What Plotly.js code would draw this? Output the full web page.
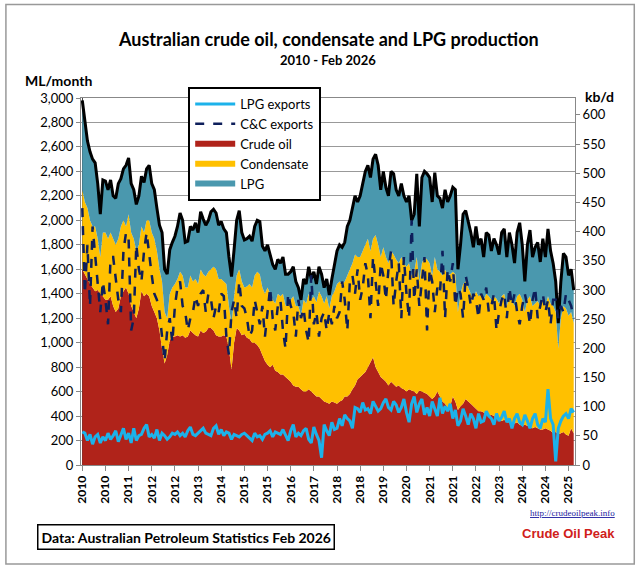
<!DOCTYPE html>
<html><head><meta charset="utf-8">
<script src="https://cdn.plot.ly/plotly-3.0.1.min.js"></script>
<style>body{margin:0;background:#fff}#c{width:641px;height:570px}</style>
</head><body><div id="c"></div>
<script>
// ML/month, monthly Jan 2010 - Dec 2025
const total = [
2980,2800,2650,2560,2500,2470,2300,2050,2330,2320,2250,2330,
2200,2180,2300,2340,2420,2450,2510,2300,2250,2130,2200,2360,
2310,2420,2450,2300,2250,2100,1960,1900,1600,1560,1760,1820,
1870,1950,2060,2000,1820,1830,1950,1920,1980,1900,2070,2010,
1960,2000,2070,2090,2060,1960,1990,1930,1900,1700,1540,1760,
2000,2080,1900,1840,1850,1870,1830,1950,2000,1990,1790,1750,
1800,1720,1640,1600,1680,1650,1700,1560,1560,1580,1620,1500,
1450,1350,1520,1480,1620,1520,1580,1480,1620,1560,1450,1520,
1390,1520,1620,1750,1800,1780,1820,1950,2000,2100,2200,2150,
2200,2300,2400,2450,2350,2500,2540,2450,2250,2400,2270,2200,
2400,2380,2250,2200,2300,2200,2150,2200,2000,2050,2380,1950,
2350,2400,2380,2350,2150,2390,2200,2180,2100,2250,2150,2200,
2270,2250,1600,1800,2050,2080,2000,1900,1780,1950,1800,1850,
1700,1900,1880,1750,1850,1800,1720,1900,1930,1700,1900,1800,
1650,1900,1980,1800,1500,1800,1920,1700,1780,1820,1660,1850,
1700,1930,1750,1650,1500,1160,1500,1730,1700,1550,1600,1430];
const crudePlusCondensate = [
2250,2150,2100,2000,1950,1950,1850,1700,1900,1900,1850,1900,
1850,1800,1850,1950,2000,1950,2050,1900,1850,1750,1800,1950,
1900,2000,2000,1900,1850,1750,1600,1500,1250,1200,1400,1450,
1480,1520,1580,1550,1450,1450,1550,1500,1520,1480,1600,1560,
1540,1580,1600,1620,1600,1520,1520,1500,1480,1300,1150,1380,
1550,1600,1500,1450,1460,1480,1450,1550,1580,1560,1450,1400,
1450,1400,1350,1320,1400,1380,1400,1300,1320,1350,1380,1300,
1300,1220,1350,1320,1400,1350,1380,1330,1420,1380,1320,1380,
1280,1380,1420,1480,1500,1480,1500,1550,1600,1650,1720,1700,
1700,1750,1800,1850,1750,1850,1880,1800,1700,1780,1700,1650,
1750,1720,1680,1650,1700,1650,1620,1650,1550,1580,1700,1500,
1650,1700,1680,1650,1550,1700,1600,1580,1550,1600,1550,1560,
1580,1560,1250,1400,1480,1500,1450,1400,1350,1420,1380,1400,
1350,1400,1380,1350,1380,1360,1320,1380,1400,1300,1380,1350,
1300,1380,1400,1350,1250,1350,1380,1300,1320,1340,1300,1350,
1300,1380,1320,1300,1250,950,1200,1300,1280,1220,1250,1160];
const crude = [
1600,1560,1520,1480,1450,1420,1430,1400,1380,1350,1350,1380,
1300,1250,1280,1380,1420,1450,1400,1300,1250,1200,1280,1420,
1380,1400,1380,1300,1250,1200,1100,950,830,900,1020,1050,
1050,1060,1050,1060,1040,1050,1100,1080,1060,1050,1100,1080,
1090,1120,1120,1100,1060,1050,1050,1060,1050,950,780,1000,
1120,1100,1060,1070,1040,1030,1000,1000,980,950,900,850,
820,800,820,770,760,740,740,720,700,680,650,640,
640,620,600,600,620,600,580,560,560,540,520,510,
500,520,510,500,520,530,560,560,580,620,650,700,
720,740,760,800,840,880,800,760,720,700,680,650,
680,660,640,650,630,620,600,620,610,600,580,610,
600,590,580,560,540,560,600,560,520,500,470,480,
560,520,450,480,500,540,520,500,480,460,440,440,
430,420,400,410,400,380,370,360,370,350,350,340,
340,350,330,320,330,320,310,300,310,300,290,290,
300,290,280,260,270,250,260,270,250,240,300,260];
const ccExports = [
2100,1400,1800,1300,1950,1700,1500,1250,1500,1350,1150,1700,
1700,1500,1350,1250,1750,1900,1850,1100,1200,1800,1600,1500,
1750,1900,1700,1550,1400,1350,1250,1050,850,1100,1200,1000,
1300,1450,1500,1300,1250,1100,1200,1250,1380,1300,1400,1430,
1250,1400,1360,1200,1300,1250,1400,1380,1050,900,1250,1350,
1200,1500,1300,1280,1200,1050,1100,1350,1250,1150,1300,1050,
1250,1450,1200,1100,1300,1350,1100,950,1400,1300,1250,1050,
1350,1200,1280,1100,1000,1550,1150,1250,1050,1200,1250,1100,
1250,1150,1300,1200,1250,1500,1350,1100,1500,1550,1400,1600,
1350,1450,1650,1550,1200,1700,1500,1300,1650,1550,1350,1600,
1750,1300,1500,1650,1200,1700,1400,1200,2000,1350,1600,1300,
1500,1700,1100,1600,1500,1250,1450,1400,1750,1200,1600,1500,
1650,1300,1450,1400,1200,1550,1450,1300,1400,1350,1200,1400,
1350,1450,1250,1300,1400,1100,1250,1350,1400,1200,1450,1300,
1400,1250,1150,1300,1400,1300,1150,1350,1450,1200,1300,1400,
1250,1350,1150,1350,1350,1200,1300,1250,1400,1350,1300,1200];
const lpgExports = [
270,260,200,250,170,230,250,180,230,200,260,210,
240,280,190,250,300,210,260,180,300,200,240,250,
300,330,230,250,220,290,200,260,240,210,230,260,
250,270,240,260,230,280,310,250,240,260,280,300,
260,250,240,300,320,250,290,240,270,260,210,250,
240,230,250,260,240,220,200,260,230,240,210,250,
260,280,230,270,260,250,290,240,200,280,330,230,
260,240,280,300,210,180,310,250,200,60,330,280,
240,350,290,300,380,320,410,380,360,300,470,460,
430,510,450,460,420,520,480,440,460,510,540,470,
450,520,490,430,470,540,430,350,500,560,430,500,
540,410,470,400,520,460,400,550,420,480,440,500,
380,450,320,360,460,400,330,420,380,300,420,350,
360,440,400,380,330,420,360,390,440,350,380,300,
380,420,350,330,410,360,300,380,420,330,300,380,
350,620,380,330,30,300,360,400,420,380,460,430];
const tickLabels = ['2010','2010','2011','2012','2012','2013','2014','2015','2015','2016','2017','2018','2018','2019','2020','2021','2021','2022','2023','2024','2024','2025'];

const x = total.map((_, i) => i);
const tickvals = tickLabels.map((_, i) => i * 9);
const F = 'Lato, "Liberation Sans", sans-serif';

const traces = [
  {x, y: crude, type:'scatter', mode:'none', fill:'tozeroy', fillcolor:'#B0231A', name:'Crude oil', legendrank:3},
  {x, y: crudePlusCondensate, type:'scatter', mode:'none', fill:'tonexty', fillcolor:'#FFC000', name:'Condensate', legendrank:2},
  {x, y: total, type:'scatter', mode:'none', fill:'tonexty', fillcolor:'#4A98AE', name:'LPG', legendrank:1},
  {x, y: total, type:'scatter', mode:'lines', line:{color:'#000', width:3}, showlegend:false},
  {x, y: ccExports, type:'scatter', mode:'lines', line:{color:'#0E1F5B', width:2.5, dash:'dash'}, name:'C&C exports', legendrank:4},
  {x, y: lpgExports, type:'scatter', mode:'lines', line:{color:'#1CB2EA', width:3}, name:'LPG exports', legendrank:5},
  {x:[0], y:[0], yaxis:'y2', type:'scatter', mode:'markers', marker:{opacity:0}, showlegend:false, hoverinfo:'skip'}
];

const layout = {
  width:641, height:570,
  margin:{l:81, r:66, t:98, b:105},
  paper_bgcolor:'#fff', plot_bgcolor:'#fff',
  font:{family:F, size:12, color:'#000'},
  showlegend:true,
  legend:{x:0.217, y:1.03, xanchor:'left', yanchor:'top', bgcolor:'#fff', bordercolor:'#000', borderwidth:2,
    font:{family:F, size:13, color:'#000'}, tracegroupgap:0, itemwidth:40},
  xaxis:{range:[-0.5,191.5], tickvals, ticktext:tickLabels, tickangle:-90, showgrid:false,
    showline:true, linecolor:'#888', ticks:'outside', ticklen:5, tickcolor:'#888', mirror:true,
    tickfont:{family:F, size:12, color:'#000', weight:'bold'}},
  yaxis:{range:[0,3000], dtick:200, tickformat:',d', showgrid:true, gridcolor:'#999', gridwidth:1,
    showline:true, linecolor:'#888', ticks:'outside', ticklen:4, tickcolor:'#888', zeroline:false,
    tickfont:{family:F, size:13, color:'#000'}},
  yaxis2:{overlaying:'y', side:'right', range:[0,629], dtick:50, showgrid:false, zeroline:false,
    showline:true, linecolor:'#888', ticks:'outside', ticklen:4, tickcolor:'#888',
    tickfont:{family:F, size:13, color:'#000'}},
  annotations:[
    {xref:'paper', yref:'paper', x:0.5, y:1, yshift:72, text:'<b>Australian crude oil, condensate and LPG production</b>', showarrow:false, font:{family:F, size:18}},
    {xref:'paper', yref:'paper', x:0.5, y:1, yshift:48, text:'<b>2010 - Feb 2026</b>', showarrow:false, font:{family:F, size:13}},
    {xref:'paper', yref:'paper', x:0, xshift:-58, y:1, yshift:28, xanchor:'left', text:'<b>ML/month</b>', showarrow:false, font:{family:F, size:14}},
    {xref:'paper', yref:'paper', x:1, xshift:8, y:1, yshift:12, xanchor:'left', text:'<b>kb/d</b>', showarrow:false, font:{family:F, size:14}},
    {xref:'paper', yref:'paper', x:0, xshift:-44, y:0, yshift:-72, xanchor:'left', yanchor:'middle', text:'<b>Data: Australian Petroleum Statistics Feb 2026</b>', showarrow:false,
      font:{family:F, size:14}, bordercolor:'#000', borderwidth:1.5, borderpad:3, bgcolor:'#fff'},
    {xref:'paper', yref:'paper', x:1, xshift:42, y:0, yshift:-55, xanchor:'right', text:'<u>http://crudeoilpeak.info</u>', showarrow:false, font:{family:'Liberation Serif', size:9, color:'#1a1aa0'}},
    {xref:'paper', yref:'paper', x:1, xshift:42, y:0, yshift:-78, xanchor:'right', text:'<b>Crude Oil Peak</b>', showarrow:false, font:{family:'Liberation Sans', size:13, color:'#D0201A'}}
  ],
  shapes:[
    {type:'rect', xref:'paper', yref:'paper', x0:-0.152, x1:1.12, y0:-0.27, y1:1.255, line:{color:'#999', width:1.5}}
  ]
};
Plotly.newPlot('c', traces, layout, {displayModeBar:false, staticPlot:true});
</script></body></html>
